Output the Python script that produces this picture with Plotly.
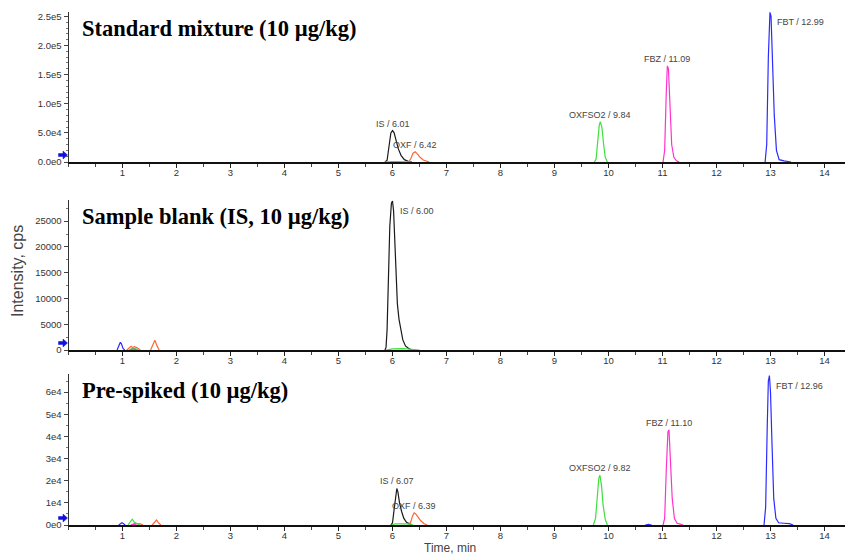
import plotly.graph_objects as go

# ---------------- data ----------------
PANEL_TITLES = ["Standard mixture (10 µg/kg)", "Sample blank (IS, 10 µg/kg)", "Pre-spiked (10 µg/kg)"]
X_TICKS = list(range(1, 15))

# Standard mixture
STD_IS_T = [5.86, 5.90, 5.94, 5.97, 6.00, 6.03, 6.07, 6.11, 6.16, 6.22, 6.30, 6.36]
STD_IS_I = [0, 3000, 30000, 50000, 54000, 50000, 36000, 22000, 11000, 4000, 800, 0]
STD_OXF_T = [6.30, 6.34, 6.38, 6.42, 6.46, 6.51, 6.57, 6.63, 6.68]
STD_OXF_I = [0, 6000, 15000, 17500, 14000, 8000, 3500, 1000, 0]
STD_OXFSO2_T = [5.86, 5.90, 6.00, 6.10, 6.20, 6.30, 6.34, 9.74, 9.77, 9.80, 9.83, 9.85, 9.88, 9.91, 9.94, 9.98]
STD_OXFSO2_I = [0, 600, 900, 800, 700, 500, 0, 0, 5000, 35000, 64000, 69000, 58000, 30000, 8000, 0]
STD_FBZ_T = [11.01, 11.04, 11.07, 11.09, 11.11, 11.14, 11.17, 11.21, 11.26, 11.31]
STD_FBZ_I = [0, 20000, 120000, 165000, 160000, 90000, 30000, 8000, 2000, 0]
STD_FBT_T = [12.90, 12.93, 12.96, 12.99, 13.01, 13.04, 13.07, 13.11, 13.16, 13.25, 13.34, 13.38]
STD_FBT_I = [0, 30000, 180000, 257000, 250000, 170000, 80000, 20000, 4000, 2000, 1500, 0]
STD_LABELS = ["IS / 6.01", "OXF / 6.42", "OXFSO2 / 9.84", "FBZ / 11.09", "FBT / 12.99"]

# Sample blank
BLK_IS_T = [5.86, 5.88, 5.90, 5.92, 5.95, 5.98, 6.00, 6.02, 6.04, 6.06, 6.09, 6.12, 6.15, 6.19, 6.24, 6.30, 6.36]
BLK_IS_I = [0, 500, 4000, 14000, 24000, 28500, 28900, 27000, 21000, 14000, 9000, 6000, 4000, 2000, 800, 300, 0]
BLK_OXF_T = [1.08, 1.13, 1.16, 1.19, 1.22, 1.25, 1.28, 1.33, 1.52, 1.56, 1.60, 1.64, 1.68]
BLK_OXF_I = [0, 500, 700, 450, 700, 500, 400, 0, 0, 900, 1900, 800, 0]
BLK_OXFSO2_T = [1.12, 1.18, 1.24, 1.30, 5.88, 6.00, 6.20, 6.40, 6.50]
BLK_OXFSO2_I = [0, 300, 250, 0, 0, 200, 250, 150, 0]
BLK_FBZ_T = [1.15, 1.20, 1.26]
BLK_FBZ_I = [0, 200, 0]
BLK_FBT_T = [0.90, 0.93, 0.96, 0.98, 1.01, 1.04]
BLK_FBT_I = [0, 800, 1500, 1200, 300, 0]
BLK_LABELS = ["IS / 6.00", "", "", "", ""]

# Pre-spiked
SPK_IS_T = [5.97, 6.00, 6.03, 6.06, 6.08, 6.10, 6.13, 6.17, 6.21, 6.26, 6.32, 6.36]
SPK_IS_I = [0, 1000, 7000, 14000, 16500, 15000, 10000, 6000, 3000, 1200, 300, 0]
SPK_OXF_T = [1.18, 1.23, 1.28, 1.33, 1.38, 1.55, 1.59, 1.63, 1.67, 1.71, 6.30, 6.34, 6.37, 6.40, 6.43, 6.47, 6.52, 6.58, 6.64]
SPK_OXF_I = [0, 700, 600, 500, 0, 0, 1200, 2250, 900, 0, 0, 1500, 4000, 5500, 5000, 3500, 2000, 700, 0]
SPK_OXFSO2_T = [1.10, 1.15, 1.18, 1.22, 1.27, 1.32, 5.98, 6.05, 6.20, 6.34, 6.38, 9.72, 9.76, 9.79, 9.82, 9.84, 9.87, 9.90, 9.94, 9.98]
SPK_OXFSO2_I = [0, 2000, 2600, 1200, 400, 0, 0, 500, 500, 400, 0, 0, 3000, 12000, 21000, 22500, 18000, 9000, 2500, 0]
SPK_FBZ_T = [1.15, 1.20, 1.26, 11.01, 11.04, 11.07, 11.10, 11.12, 11.15, 11.18, 11.22, 11.27, 11.33, 11.38]
SPK_FBZ_I = [0, 400, 0, 0, 3000, 25000, 42000, 43000, 30000, 12000, 3000, 800, 400, 0]
SPK_FBT_T = [0.93, 0.97, 0.99, 1.02, 1.05, 10.68, 10.74, 10.80, 12.88, 12.91, 12.94, 12.96, 12.98, 13.00, 13.03, 13.06, 13.10, 13.15, 13.25, 13.35, 13.42]
SPK_FBT_I = [0, 700, 1000, 600, 0, 0, 300, 0, 0, 8000, 45000, 65000, 67500, 60000, 35000, 12000, 3000, 1000, 800, 600, 0]
SPK_LABELS = ["IS / 6.07", "OXF / 6.39", "OXFSO2 / 9.82", "FBZ / 11.10", "FBT / 12.96"]

STD_Y_TICKS = [0, 50000, 100000, 150000, 200000, 250000]
STD_Y_TEXT = ["0.0e0", "5.0e4", "1.0e5", "1.5e5", "2.0e5", "2.5e5"]
BLK_Y_TICKS = [0, 5000, 10000, 15000, 20000, 25000]
BLK_Y_TEXT = ["0", "5000", "10000", "15000", "20000", "25000"]
SPK_Y_TICKS = [0, 10000, 20000, 30000, 40000, 50000, 60000]
SPK_Y_TEXT = ["0e0", "1e4", "2e4", "3e4", "4e4", "5e4", "6e4"]

# ---------------- styling ----------------
COLORS = ["#1a1a1a", "#ff6633", "#3de03d", "#ff33cc", "#2b2bff"]
W, H = 847, 556
X_DOM = [68.5 / W, 845 / W]
X_MAX = (845 - 68.5) / 54.0
PANELS = [
    dict(dom=[1 - 162 / H, 1 - 12 / H], ymax=257500, ticks=STD_Y_TICKS, text=STD_Y_TEXT, minor=10000,
         series=[(STD_IS_T, STD_IS_I), (STD_OXF_T, STD_OXF_I), (STD_OXFSO2_T, STD_OXFSO2_I),
                 (STD_FBZ_T, STD_FBZ_I), (STD_FBT_T, STD_FBT_I)], labels=STD_LABELS),
    dict(dom=[1 - 350 / H, 1 - 200 / H], ymax=29100, ticks=BLK_Y_TICKS, text=BLK_Y_TEXT, minor=2500,
         series=[(BLK_IS_T, BLK_IS_I), (BLK_OXF_T, BLK_OXF_I), (BLK_OXFSO2_T, BLK_OXFSO2_I),
                 (BLK_FBZ_T, BLK_FBZ_I), (BLK_FBT_T, BLK_FBT_I)], labels=BLK_LABELS),
    dict(dom=[1 - 525 / H, 1 - 374 / H], ymax=68200, ticks=SPK_Y_TICKS, text=SPK_Y_TEXT, minor=5000,
         series=[(SPK_IS_T, SPK_IS_I), (SPK_OXF_T, SPK_OXF_I), (SPK_OXFSO2_T, SPK_OXFSO2_I),
                 (SPK_FBZ_T, SPK_FBZ_I), (SPK_FBT_T, SPK_FBT_I)], labels=SPK_LABELS),
]


def split_segments(t, inten):
    """Break the line where two consecutive points sit on the baseline (channel switched off)."""
    xs, ys = [], []
    for j in range(len(t)):
        if j > 0 and inten[j] == 0 and inten[j - 1] == 0:
            xs.append(None)
            ys.append(None)
        xs.append(t[j])
        ys.append(inten[j])
    return xs, ys


fig = go.Figure()
annotations = []
shapes = []
layout = dict(
    width=W, height=H, margin=dict(l=0, r=0, t=0, b=0),
    paper_bgcolor="white", plot_bgcolor="white", showlegend=False,
    font=dict(family="Liberation Sans, Arial", color="#333"),
)

tick_font = dict(family="Liberation Sans, Arial", size=9.5, color="#333")
for p_i, panel in enumerate(PANELS):
    n = "" if p_i == 0 else str(p_i + 1)
    xa, ya = "x" + n, "y" + n
    layout["xaxis" + n] = dict(
        domain=X_DOM, range=[0, X_MAX], anchor=ya, tickvals=X_TICKS, ticktext=[str(v) for v in X_TICKS],
        ticks="outside", ticklen=4, tickwidth=1, tickcolor="#222", showline=True, linecolor="#111",
        linewidth=1.6, showgrid=False, zeroline=False, tickfont=tick_font, ticklabelstandoff=-3,
        minor=dict(dtick=0.5, tick0=0, ticks="outside", ticklen=3, tickcolor="#444", showgrid=False),
        automargin=False, fixedrange=True,
    )
    layout["yaxis" + n] = dict(
        domain=panel["dom"], range=[0, panel["ymax"]], anchor=xa, tickvals=panel["ticks"],
        ticktext=panel["text"], ticks="outside", ticklen=4, tickwidth=1, tickcolor="#444",
        showline=True, linecolor="#333", linewidth=1, showgrid=False, zeroline=False, tickfont=tick_font,
        minor=dict(dtick=panel["minor"], tick0=0, ticks="outside", ticklen=2, tickcolor="#777", showgrid=False),
        automargin=False, fixedrange=True,
    )
    for (t, inten), col, lab in zip(panel["series"], COLORS, panel["labels"]):
        xs, ys = split_segments(t, inten)
        fig.add_trace(go.Scatter(x=xs, y=ys, mode="lines", line=dict(color=col, width=1.2),
                                 connectgaps=False, xaxis=xa, yaxis=ya, hoverinfo="skip"))
        if lab:
            k = max(range(len(inten)), key=lambda j: inten[j])
            near_top = inten[k] > 0.9 * panel["ymax"]
            if near_top:
                annotations.append(dict(x=t[k], y=inten[k], xref=xa, yref=ya, text=lab, showarrow=False,
                                        xanchor="left", yanchor="top", xshift=5, yshift=-3,
                                        font=dict(size=9, color="#444")))
            else:
                annotations.append(dict(x=t[k], y=inten[k], xref=xa, yref=ya, text=lab, showarrow=False,
                                        xanchor="center", yanchor="bottom", yshift=0,
                                        font=dict(size=9, color="#444")))
    # panel title
    annotations.append(dict(x=80 / W, y=panel["dom"][1] - 16 / H, xref="paper", yref="paper",
                            text="<b>" + PANEL_TITLES[p_i] + "</b>", showarrow=False,
                            xanchor="left", yanchor="middle",
                            font=dict(family="Liberation Serif, Times New Roman", size=22.5, color="#000")))
    # blue marker arrow at the left of each baseline
    shapes.append(dict(type="path", xref="paper", yref="paper", xsizemode="pixel", ysizemode="pixel",
                       xanchor=X_DOM[0], yanchor=panel["dom"][0],
                       path="M-10,5.5 L-5.5,5.5 L-5.5,3 L-1,7 L-5.5,11 L-5.5,8.5 L-10,8.5 Z",
                       fillcolor="#1010e0", line=dict(color="#1010e0", width=0.5)))

annotations.append(dict(x=17 / W, y=1 - 271 / H, xref="paper", yref="paper", text="Intensity, cps",
                        showarrow=False, textangle=-90, xanchor="center", yanchor="middle",
                        font=dict(size=16, color="#444")))
annotations.append(dict(x=450 / W, y=0, xref="paper", yref="paper", text="Time, min",
                        showarrow=False, xanchor="center", yanchor="bottom", borderpad=0,
                        font=dict(size=12, color="#444")))

layout["annotations"] = annotations
layout["shapes"] = shapes
fig.update_layout(**layout)
fig.write_html("out.html", config={"displayModeBar": False},
               post_script="document.body.style.margin='0';document.body.style.padding='0';")
